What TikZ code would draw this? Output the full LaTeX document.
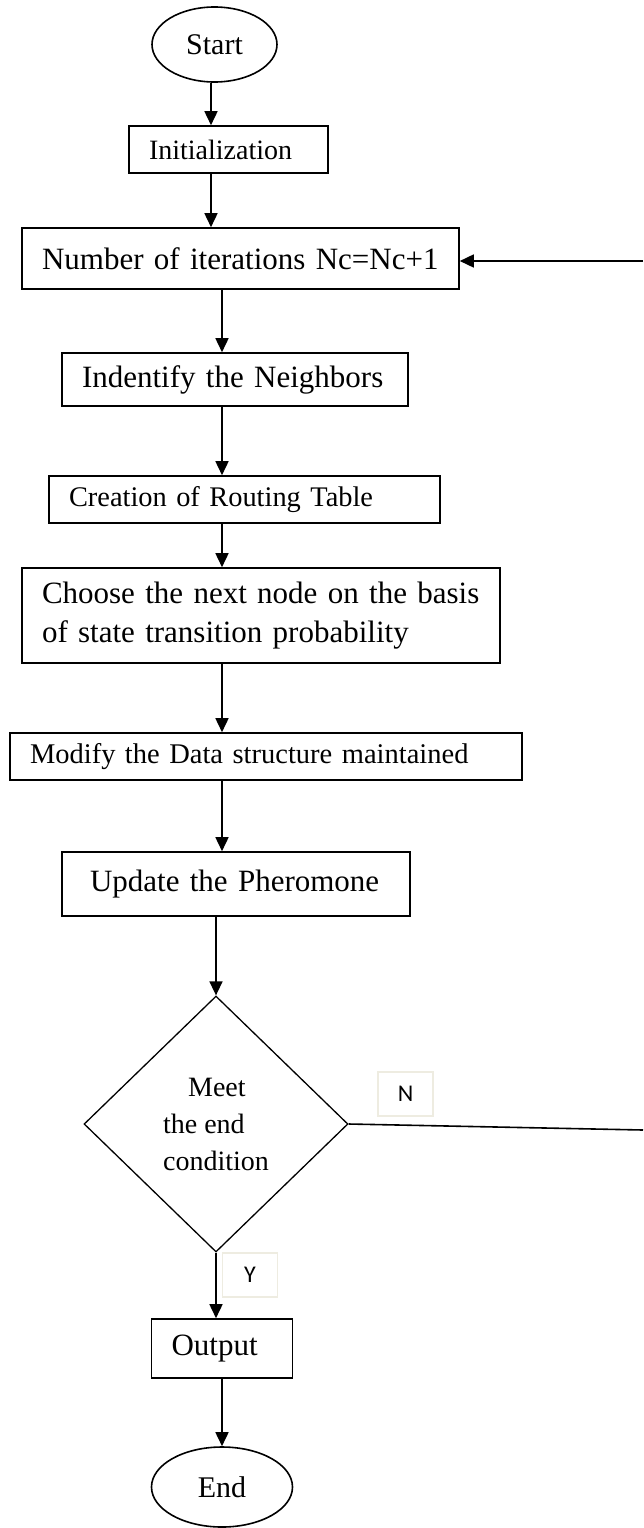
\documentclass[tikz,border=0pt]{standalone}
\usepackage{fontspec}
\setmainfont{Liberation Serif}
\newfontfamily\lblfont{Carlito}
\usetikzlibrary{arrows.meta,shapes.geometric}
\definecolor{LabelEdge}{HTML}{EEECE1}

\begin{document}
\begin{tikzpicture}[x=1pt, y=-1pt, line width=1.6pt,
    >={Triangle[width=13pt,length=14pt]},
    procbox/.style={draw, rectangle, align=left, inner xsep=20pt, inner ysep=0pt,
        font=\fontsize{31}{39}\selectfont},
    termbox/.style={draw, ellipse, inner sep=0pt, font=\fontsize{30}{36}\selectfont},
    decbox/.style={draw, diamond, inner sep=0pt, line width=1.3pt, align=left,
        font=\fontsize{28}{37}\selectfont},
    lblbox/.style={draw=LabelEdge, line width=1.2pt, minimum width=55pt,
        minimum height=44pt, inner sep=0pt, font=\lblfont\fontsize{24}{28}\selectfont}]

    % Page frame
    \useasboundingbox (0,0) rectangle (643,1528);

    % Terminals
    \node[termbox, minimum width=125pt, minimum height=75pt] (start) at (214.5,44.5) {Start};
    \node[termbox, minimum width=141pt, minimum height=80pt] (end) at (222,1487) {End};

    % Process boxes
    \node[procbox, text width=159pt, minimum height=47pt, font=\fontsize{28}{34}\selectfont]
        (init) at (228.5,149.5) {Initialization};
    \node[procbox, text width=397pt, minimum height=61pt] (iter) at (240.5,258.5)
        {Number of iterations Nc=Nc+1};
    \node[procbox, text width=306pt, minimum height=53pt] (ident) at (235,379.5)
        {Indentify the Neighbors};
    \node[procbox, text width=351pt, minimum height=47pt, font=\fontsize{28.4}{34}\selectfont]
        (route) at (244.5,499.5) {Creation of Routing Table};
    \node[procbox, text width=438pt, minimum height=95pt] (choose) at (261,615.5)
        {Choose the next node on the basis\\of state transition probability};
    \node[procbox, text width=472pt, minimum height=47pt, font=\fontsize{28.5}{34}\selectfont]
        (modify) at (266,756.5) {Modify the Data structure maintained};
    \node[procbox, inner xsep=28pt, text width=292pt, minimum height=64pt] (update) at (236,884)
        {Update the Pheromone};
    \node[procbox, text width=101pt, minimum height=59pt] (out) at (222,1348.5) {Output};

    % Decision
    \node[decbox, minimum width=264pt, minimum height=256pt] (cond) at (216,1124)
        {\hspace*{25pt}Meet\\the end\\condition};

    % Branch labels
    \node[lblbox] (lblN) at (405.5,1094) {N};
    \node[lblbox] (lblY) at (250,1275) {Y};

    % Arrow columns and feedback ends
    \coordinate (colA) at (211,0);
    \coordinate (colB) at (222,0);
    \coordinate (fbN) at (643,1130);
    \coordinate (fbT) at (643,261);

    % Main flow
    \draw[->] (start.south -| colA) -- (init.north -| colA);
    \draw[->] (init.south -| colA) -- (iter.north -| colA);
    \draw[->] (iter.south -| colB) -- (ident.north -| colB);
    \draw[->] (ident.south -| colB) -- (route.north -| colB);
    \draw[->] (route.south -| colB) -- (choose.north -| colB);
    \draw[->] (choose.south -| colB) -- (modify.north -| colB);
    \draw[->] (modify.south -| colB) -- (update.north -| colB);
    \draw[->] (update.south -| cond.north) -- (cond.north);
    \draw[->] (cond.south) -- (cond.south |- out.north);
    \draw[->] (out.south) -- (out.south |- end.north);

    % Loop back
    \draw (cond.east) -- (fbN);
    \draw[->] (fbT) -- (fbT -| iter.east);

\end{tikzpicture}
\end{document}
